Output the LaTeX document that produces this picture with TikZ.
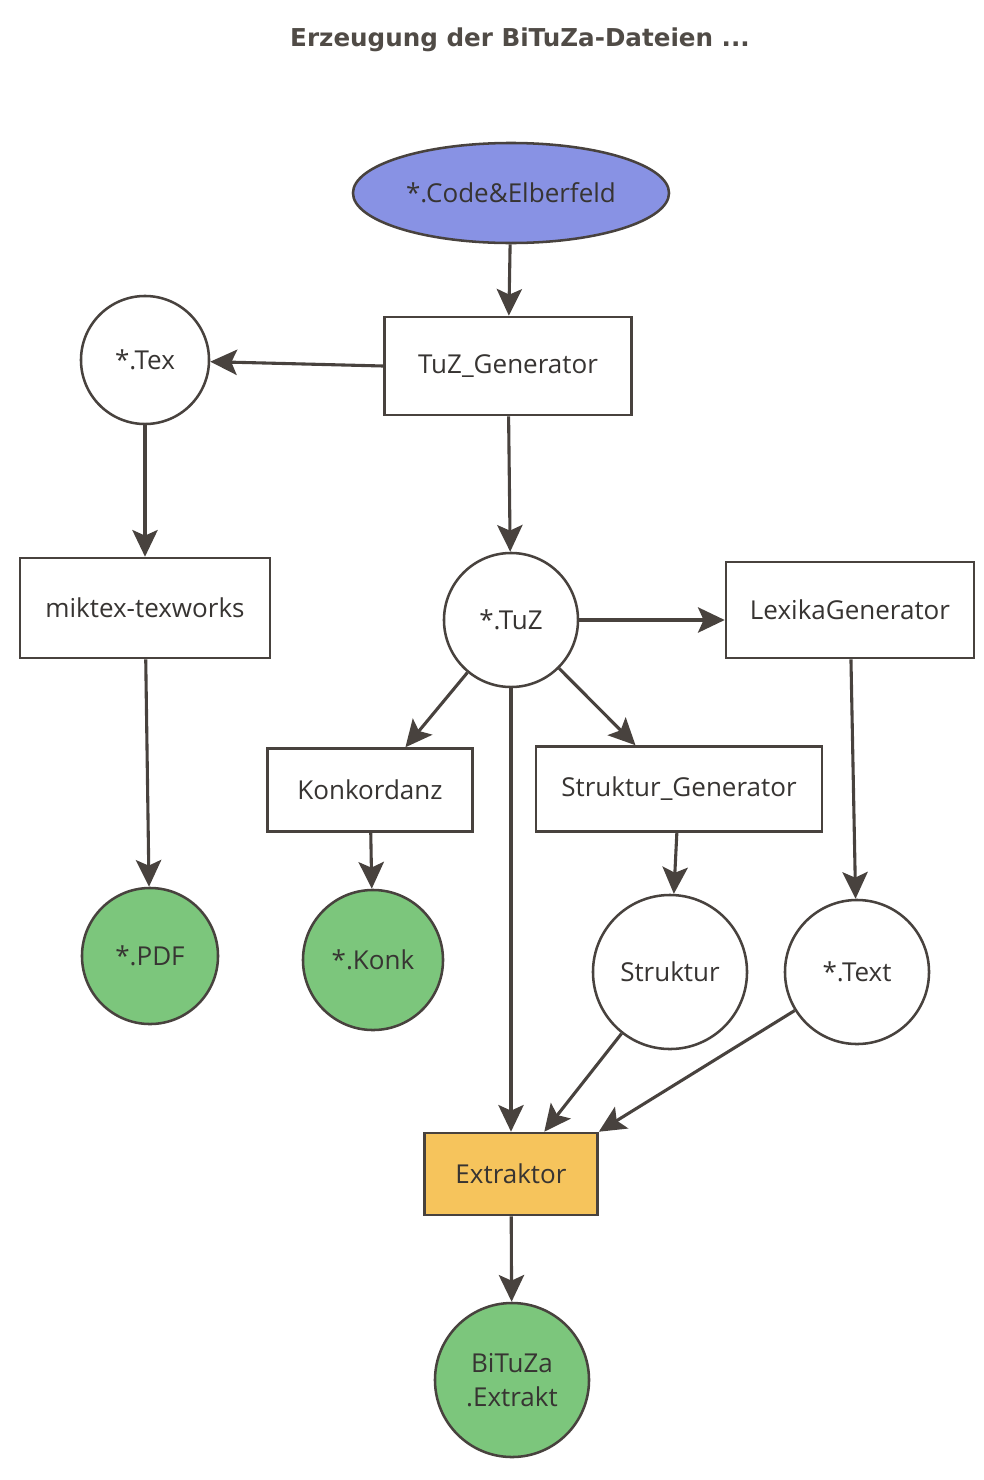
\documentclass[tikz,border=0pt]{standalone}
\usepackage{fontspec}
\setmainfont{Open Sans}
\newfontfamily\titlefont{DejaVu Sans}
\usetikzlibrary{shapes.geometric,arrows.meta}
\definecolor{linegray}{RGB}{72,66,62}
\definecolor{textgray}{RGB}{55,52,50}
\definecolor{titlegray}{RGB}{80,75,70}
\definecolor{startblue}{RGB}{136,146,228}
\definecolor{endgreen}{RGB}{124,198,124}
\definecolor{extorange}{RGB}{246,196,92}
\begin{document}
\begin{tikzpicture}[x=0.025cm, y=-0.025cm,
	every node/.style={text=textgray, font=\fontsize{18.5}{24}\selectfont},
	prog/.style={draw=linegray, line width=1.8pt, fill=white, inner sep=0pt},
	file/.style={circle, draw=linegray, line width=1.8pt, fill=white, inner sep=0pt, align=center},
	result/.style={file, fill=endgreen},
	flow/.style={draw=linegray, line width=2.2pt, -{Stealth[length=19pt, width=18pt, inset=4pt]}}]
	\useasboundingbox (0,0) rectangle (984,1480);
	\node[text=titlegray] (title) at (520,40) {\titlefont\bfseries\fontsize{17.5}{20}\selectfont Erzeugung der BiTuZa-Dateien ...};
	% Eingabe
	\node[ellipse, draw=linegray, line width=1.8pt, fill=startblue, minimum width=7.9cm, minimum height=2.5cm] (code) at (511,193) {*.Code\&Elberfeld};
	\node[prog, minimum width=6.175cm, minimum height=2.45cm] (gen) at (508,366) {TuZ\_Generator};
	\node[file, minimum size=3.2cm] (tex) at (145,360) {*.Tex};
	\node[prog, minimum width=6.25cm, minimum height=2.5cm] (miktex) at (145,608) {miktex-texworks};
	\node[result, minimum size=3.4cm] (pdf) at (150,956) {*.PDF};
	% TuZ und Folgeprogramme
	\node[file, minimum size=3.35cm] (tuz) at (511,620) {*.TuZ};
	\node[prog, minimum width=6.2cm, minimum height=2.4cm] (lexika) at (850,610) {LexikaGenerator};
	\node[prog, minimum width=5.125cm, minimum height=2.075cm] (konk) at (370,790) {Konkordanz};
	\node[prog, minimum width=7.15cm, minimum height=2.125cm] (strgen) at (679,789) {Struktur\_Generator};
	\node[result, minimum size=3.5cm] (konkfile) at (373,960) {*.Konk};
	\node[file, minimum size=3.85cm] (struktur) at (670,972) {Struktur};
	\node[file, minimum size=3.6cm] (text) at (857,972) {*.Text};
	\node[prog, fill=extorange, minimum width=4.325cm, minimum height=2.05cm] (extr) at (511,1174) {Extraktor};
	\node[result, minimum size=3.85cm] (extrakt) at (512,1380) {BiTuZa\\.Extrakt};
	% Pfeile
	\draw[flow] (code) -- (gen);
	\draw[flow] (gen.west) -- (tex);
	\draw[flow] (tex) -- (miktex);
	\draw[flow] (miktex) -- (pdf);
	\draw[flow] (gen) -- (tuz);
	\draw[flow] (tuz) -- (lexika.west |- tuz);
	\draw[flow] (tuz) -- (konk);
	\draw[flow] (tuz) -- (strgen);
	\draw[flow] (tuz) -- (extr);
	\draw[flow] (konk) -- (konkfile);
	\draw[flow] (strgen) -- (struktur);
	\draw[flow] (lexika) -- (text);
	\draw[flow] (struktur) -- (extr);
	\draw[flow] (text) -- (extr.north east);
	\draw[flow] (extr) -- (extrakt);
\end{tikzpicture}
\end{document}
